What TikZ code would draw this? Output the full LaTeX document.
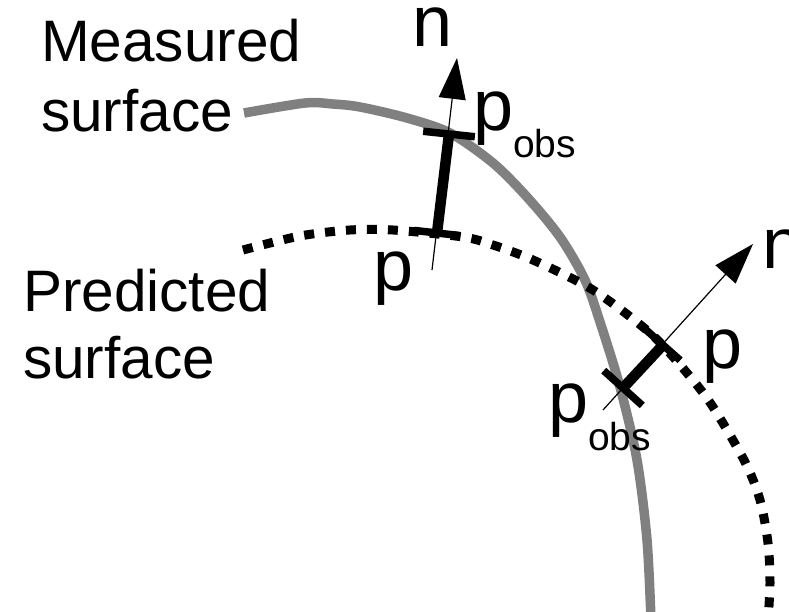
\documentclass[tikz,border=0pt]{standalone}
\usepackage{fontspec}
\setmainfont{Liberation Sans}
\usetikzlibrary{arrows.meta,calc}
\definecolor{surfgray}{HTML}{808080}
\begin{document}
\begin{tikzpicture}[x=1bp,y=-1bp,
  measuredline/.style={draw=surfgray, line width=9.5bp, line join=round},
  predictedline/.style={draw=black, line width=9bp, dash pattern=on 10bp off 11bp},
  normalline/.style={draw=black, line width=1.2bp, -{Triangle[length=41bp,width=27bp]}},
  gapline/.style={draw=black, line width=10.5bp},
  tickline/.style={draw=black, line width=7.5bp},
  textlabel/.style={inner sep=0pt, anchor=base west, font=\fontsize{58.5bp}{68bp}\selectfont},
  sym/.style={inner sep=0pt, anchor=base west, font=\fontsize{72bp}{72bp}\selectfont}
]
\useasboundingbox (0,0) rectangle (789,612);

% surfaces
\draw[measuredline] plot[smooth, tension=0.5] coordinates {(244,113) (305,103) (333,104) (360,107) (407,118) (450,133) (493,163) (527,197) (560,237) (585,280) (600,322) (620,387) (637,460) (647,540) (651,620)};
\draw[predictedline] plot[smooth, tension=0.5] coordinates {(243,250) (300,236) (350,230) (393,230) (463,237) (493,245) (533,260) (593,290) (650,333) (687,373) (713,407) (745,462) (760,500) (768,543) (770,583) (768,620)};

% first normal
\coordinate (t1) at (432,270);
\coordinate (h1) at (457,58);
\coordinate (p1) at (437,233);
\coordinate (po1) at (449,134);
\draw[normalline] (t1) -- (h1);
\draw[gapline] (p1) -- (po1);
\draw[tickline] ($(po1)!26bp!90:(h1)$) -- ($(po1)!26bp!-90:(h1)$);
\draw[tickline] ($(p1)!23bp!90:(h1)$) -- ($(p1)!23bp!-90:(h1)$);

% second normal
\coordinate (t2) at (603,410);
\coordinate (h2) at (753,244);
\coordinate (p2) at (663,345);
\coordinate (po2) at (623,388);
\draw[normalline] (t2) -- (h2);
\draw[gapline] (p2) -- (po2);
\draw[tickline] ($(po2)!26bp!90:(h2)$) -- ($(po2)!26bp!-90:(h2)$);
\draw[tickline] ($(p2)!23bp!90:(h2)$) -- ($(p2)!23bp!-90:(h2)$);

% labels
\node[textlabel] (meas1) at (41,62) {Measured};
\node[textlabel] (meas2) at (41,132) {surface};
\node[textlabel] (pred1) at (23,311) {Predicted};
\node[textlabel] (pred2) at (23,378) {surface};

\node[sym] (n1) at (412,47) {n};
\node[sym] (n2) at (762,268) {n};
\node[sym] (pobs1) at (473,131) {p\raisebox{-27bp}{\fontsize{39bp}{39bp}\selectfont obs}};
\node[sym] (pp1) at (373,290) {p};
\node[sym] (pp2) at (702,368) {p};
\node[sym] (pobs2) at (548,422) {p\raisebox{-28bp}{\fontsize{39bp}{39bp}\selectfont obs}};
\end{tikzpicture}
\end{document}
